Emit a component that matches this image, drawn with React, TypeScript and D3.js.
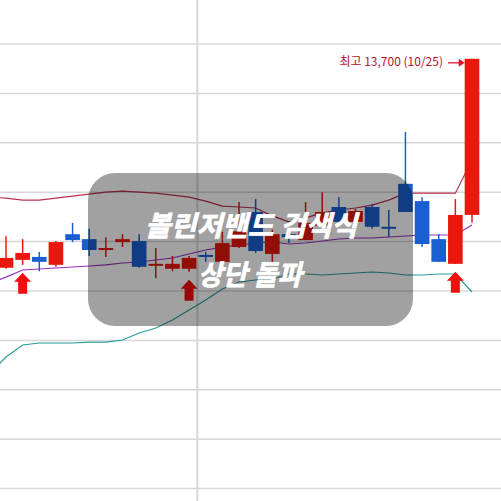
import React from 'react';
import * as d3 from 'd3';

const dates = ['09/07','09/10','09/11','09/12','09/13','09/14','09/17','09/18','09/19','09/20','09/21','09/27','09/28',
  '10/01','10/02','10/04','10/05','10/08','10/10','10/11','10/12','10/15','10/16','10/17','10/18','10/19','10/22','10/23','10/24','10/25'];
const opens  = [9300, 9470, 9630, 9690, 9530,10150,10050, 9830, 9990,10010, 9510, 9450, 9450, 9730, 9590, 9890,10600, 9750,10150,10030,10320,10700,10400,10700,10300,11170,10820,10050, 9550,10540];
const highs  = [9500,10110,10050, 9790,10010,10380,10260,10090,10150,10150, 9870, 9710, 9710, 9790,10200,10800,10860,10240,10240,10800,11000,10900,10660,10760,10640,12220,10900,10150,10860,13700];
const lows   = [9200, 9450, 9530, 9400, 9490, 9990, 9710, 9690, 9890, 9470, 9260, 9400, 9390, 9590, 9570, 9870, 9770, 9590, 9970,10030,10300,10360,10380,10260,10090,10600, 9890, 9590, 9550,10380];
const closes = [9400, 9670, 9770, 9590, 9990,10030, 9830, 9870,10050, 9490, 9550, 9550, 9670, 9690, 9970,10210, 9810,10150,10090,10380,10600,10400,10620,10300,10280,10600, 9950, 9590,10540,13700];
const upperBand  = [10900,10880,10840,10840,10880,10920,10960,11000,11020,11000,10980,10940,10900,10820,10720,10700,10680,10520,10400,10480,10580,10640,10680,10740,10840,10980,10980,10980,10980,11650];
const middleBand = [9160, 9280, 9425, 9445, 9466, 9486, 9506, 9527, 9567, 9587, 9628, 9668, 9749, 9830, 9891, 9931, 9972, 9992, 9951, 9972,10012,10053,10073,10073,10093,10113,10134,10134,10134,10336];
const lowerBand  = [7320, 7664, 7907, 7947, 7947, 7947, 7967, 7967, 8008, 8150, 8251, 8413, 8615, 8818, 9040, 9182, 9223, 9243, 9344, 9344, 9324, 9344, 9364, 9385, 9364, 9324, 9324, 9344, 9344, 8980];
const signalDates = ['09/11', '09/28', '10/24'];
const priceTicks = [5000, 6000, 7000, 8000, 9000, 10000, 11000, 12000, 13000, 14000];
const highLabel = '최고 13,700 (10/25)';
const titleLine1 = '볼린저밴드 검색식';
const titleLine2 = '상단 돌파';

const W = 501, H = 501;
const UP = '#e8190c';
const DOWN = '#1a5fd2';

export default function App() {
  const x = d3.scaleBand<string>().domain(dates).range([-18.96, 480.32]).padding(0);
  const step = x.step();
  const cx = (d: string) => (x(d) as number) + step / 2;
  const y = d3.scaleLinear().domain([5000, 14000]).range([488.6, 44]);
  const bodyW = step * 0.88;

  const line = (vals: number[]) =>
    d3.line<number>().x((_, i) => cx(dates[i])).y(v => y(v)).curve(d3.curveLinear)(vals) as string;

  const divIdx = dates.findIndex((d, i) => i > 0 && d.slice(0, 2) !== dates[i - 1].slice(0, 2));
  const divX = x(dates[divIdx]) as number;

  const maxIdx = d3.maxIndex(highs);
  const hx = cx(dates[maxIdx]) - bodyW / 2;
  const hy = y(highs[maxIdx]) + 4;

  return (
    <svg width={W} height={H} style={{ position: 'absolute', left: 0, top: 0, background: '#fff' }}>
      <rect x={0} y={0} width={W} height={H} fill="#fff" />
      {priceTicks.map(t => (
        <line key={t} x1={0} x2={W} y1={y(t)} y2={y(t)} stroke="#d8d8d8" strokeWidth={1.5} />
      ))}
      <line x1={divX} x2={divX} y1={0} y2={H} stroke="#d8d8d8" strokeWidth={2} />

      <path d={line(upperBand)} fill="none" stroke="#b8324e" strokeWidth={1.2} />
      <path d={line(middleBand)} fill="none" stroke="#9b2fbf" strokeWidth={1.2} />
      <path d={line(lowerBand)} fill="none" stroke="#2a9b9b" strokeWidth={1.2} />

      {dates.map((d, i) => {
        const up = closes[i] >= opens[i];
        const col = up ? UP : DOWN;
        const top = y(Math.max(opens[i], closes[i]));
        const bot = y(Math.min(opens[i], closes[i]));
        const c = cx(d);
        return (
          <g key={d}>
            <line x1={c} x2={c} y1={y(highs[i])} y2={y(lows[i])} stroke={col} strokeWidth={1.5} />
            <rect x={c - bodyW / 2} y={top} width={bodyW} height={Math.max(2, bot - top)} fill={col} />
          </g>
        );
      })}

      {signalDates.map(d => {
        const i = dates.indexOf(d);
        const c = cx(d);
        const t = y(lows[i]) + 8;
        const p = `M${c},${t} L${c + 8.5},${t + 9} L${c + 4.5},${t + 9} L${c + 4.5},${t + 21} L${c - 4.5},${t + 21} L${c - 4.5},${t + 9} L${c - 8.5},${t + 9} Z`;
        return <path key={d} d={p} fill="#f00f0f" />;
      })}

      <rect x={88} y={173} width={325} height={153} rx={27} ry={27} fill="rgba(0,0,0,0.37)" />

      <g fill="#fff" stroke="#fff" strokeWidth={0.7} fontFamily="'Noto Sans CJK KR', 'Noto Sans', sans-serif" fontWeight={700} fontStyle="italic" textAnchor="middle">
        <text x={251} y={236} fontSize={28} textLength={212} lengthAdjust="spacingAndGlyphs">{titleLine1}</text>
        <text x={250} y={285} fontSize={28} textLength={104} lengthAdjust="spacingAndGlyphs">{titleLine2}</text>
      </g>

      <text x={443} y={66} textAnchor="end" fontSize={12} fill="#b4142d"
        fontFamily="'Noto Sans CJK KR', sans-serif">{highLabel}</text>
      <line x1={448} x2={hx - 5} y1={hy} y2={hy} stroke="#e0102a" strokeWidth={1.3} />
      <path d={`M${hx - 6},${hy - 4} L${hx},${hy} L${hx - 6},${hy + 4} Z`} fill="#e0102a" />
    </svg>
  );
}
